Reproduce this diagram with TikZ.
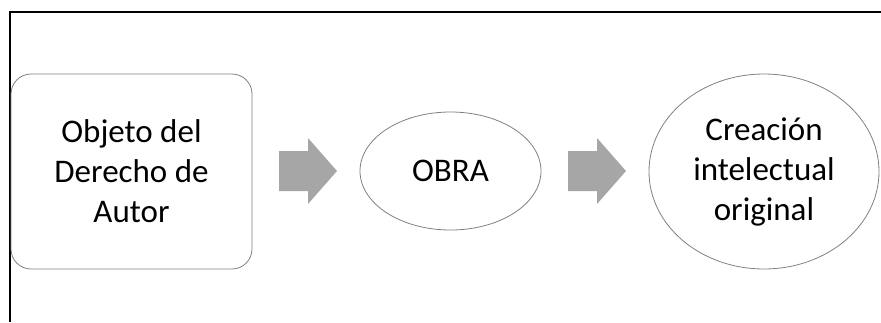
\documentclass[tikz,border=0pt]{standalone}
\usepackage{fontspec}
\setmainfont{Carlito}
\usetikzlibrary{shapes.geometric}
\begin{document}
\begin{tikzpicture}[x=1pt,y=-1pt,
  shapeline/.style={draw=black!50, line width=0.8pt, inner sep=0pt},
  lbl/.style={font=\fontsize{33}{40}\selectfont, align=center, text=black},
  blockarrow/.style={fill=black!35, draw=none}]
\useasboundingbox (0,0) rectangle (881,322);
\draw[line width=1.5pt] (10,322) -- (10,12) -- (881,12);
\node[shapeline, lbl, rounded corners=20pt, minimum width=241pt, minimum height=195pt] (box) at (131.5,171.5) {Objeto del\\Derecho de\\Autor};
\node[shapeline, lbl, ellipse, minimum width=181pt, minimum height=118pt] (obra) at (450.5,171) {OBRA};
\node[shapeline, lbl, ellipse, minimum width=230pt, minimum height=195pt] (crea) at (764,171.5) {Creación\\intelectual\\original};
\fill[blockarrow] (279,151) -- (308,151) -- (308,138) -- (337,171) -- (308,204) -- (308,191) -- (279,191) -- cycle;
\fill[blockarrow] (568,151) -- (597,151) -- (597,138) -- (626,171) -- (597,204) -- (597,191) -- (568,191) -- cycle;
\end{tikzpicture}
\end{document}
